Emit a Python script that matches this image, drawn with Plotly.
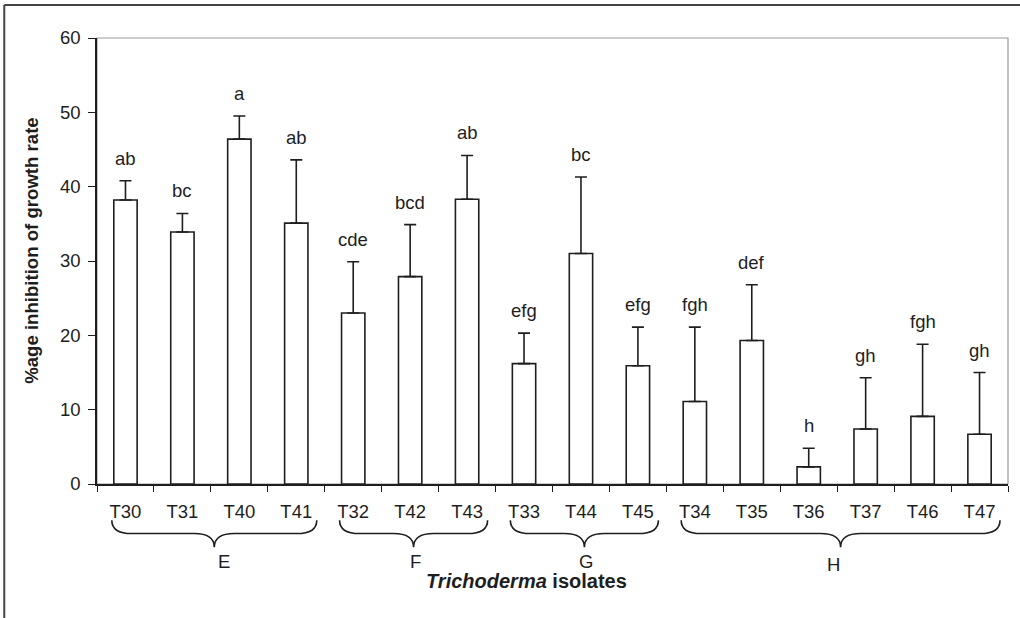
import plotly.graph_objects as go

# Trichoderma isolates, mean % inhibition of growth rate, upper error and significance letters
isolates = ["T30", "T31", "T40", "T41", "T32", "T42", "T43", "T33", "T44", "T45",
            "T34", "T35", "T36", "T37", "T46", "T47"]
inhibition = [38.2, 33.9, 46.4, 35.1, 23.0, 27.9, 38.3, 16.2, 31.0, 15.9,
              11.1, 19.3, 2.3, 7.4, 9.1, 6.7]
error_plus = [2.6, 2.5, 3.1, 8.5, 6.9, 7.0, 5.9, 4.1, 10.3, 5.2,
              10.0, 7.5, 2.5, 6.9, 9.7, 8.3]
letters = ["ab", "bc", "a", "ab", "cde", "bcd", "ab", "efg", "bc", "efg",
           "fgh", "def", "h", "gh", "fgh", "gh"]

# groups of isolates (name, number of isolates)
group_names = ["E", "F", "G", "H"]
group_sizes = [4, 3, 3, 6]

FONT = "Liberation Sans, Arial, sans-serif"
INK = "#1e1e1e"
N = len(isolates)

fig = go.Figure()
fig.add_trace(go.Bar(
    x=isolates, y=inhibition, width=0.41,
    marker=dict(color="white", line=dict(color=INK, width=1.6)),
    error_y=dict(type="data", symmetric=False, array=error_plus,
                 arrayminus=[0] * N, color=INK, thickness=1.6, width=6),
    showlegend=False, hoverinfo="x+y",
))

# significance letters above the error bars
for iso, m, e, lab in zip(isolates, inhibition, error_plus, letters):
    fig.add_annotation(x=iso, y=m + e, text=lab, showarrow=False,
                       yanchor="bottom", yshift=10,
                       font=dict(family=FONT, size=18.5, color=INK))


def px(idx):
    """category position -> paper x"""
    return (idx + 0.5) / N


# curly braces under the tick labels, one per group
y_top, y_mid, y_tip = -0.081, -0.111, -0.142
start = 0
for name, size in zip(group_names, group_sizes):
    first, last = start, start + size - 1
    x0, x1 = px(first - 0.24), px(last + 0.36)
    xc = (x0 + x1) / 2
    d = 0.022
    path = (f"M {x0},{y_top} Q {x0},{y_mid} {x0 + d},{y_mid} "
            f"L {xc - d},{y_mid} Q {xc},{y_mid} {xc},{y_tip} "
            f"Q {xc},{y_mid} {xc + d},{y_mid} "
            f"L {x1 - d},{y_mid} Q {x1},{y_mid} {x1},{y_top}")
    fig.add_shape(type="path", path=path, xref="paper", yref="paper",
                  line=dict(color=INK, width=1.6))
    fig.add_annotation(x=xc, y=y_tip - 0.004, xref="paper", yref="paper",
                       text=name, showarrow=False, yanchor="top",
                       xshift=2 if name != "H" else 1,
                       yshift=0 if name != "H" else -3,
                       font=dict(family=FONT, size=18.5, color=INK))
    start += size

# plot-area frame (grey top and right edges)
fig.add_shape(type="rect", xref="paper", yref="paper", x0=0, x1=1, y0=0, y1=1,
              line=dict(color="#9a9a9a", width=1.2), layer="below")

# outer chart frame (top and left edges)
fig.add_shape(type="line", xref="paper", yref="paper",
              x0=-0.1018, x1=1.02, y0=1.0740, y1=1.0740,
              line=dict(color="#444444", width=2))
fig.add_shape(type="line", xref="paper", yref="paper",
              x0=-0.1018, x1=-0.1018, y0=1.0740, y1=-0.31,
              line=dict(color="#444444", width=2))

# axis titles
fig.add_annotation(x=-0.0714, y=0.525, xref="paper", yref="paper",
                   text="<b>%age inhibition of growth rate</b>", textangle=-90,
                   showarrow=False, xanchor="center", yanchor="middle",
                   font=dict(family=FONT, size=18.6, color=INK))
fig.add_annotation(x=0.4715, y=-0.218, xref="paper", yref="paper",
                   text="<b><i>Trichoderma</i> isolates</b>",
                   showarrow=False, xanchor="center", yanchor="middle",
                   font=dict(family=FONT, size=20, color=INK))

fig.update_layout(
    width=1020, height=618,
    margin=dict(l=97, r=12, t=38, b=134),
    paper_bgcolor="white", plot_bgcolor="white",
    font=dict(family=FONT, size=18.5, color=INK),
    bargap=0.59,
    xaxis=dict(type="category", tickson="boundaries", ticks="outside",
               ticklen=6, tickwidth=1.2, tickcolor=INK,
               showline=True, linecolor=INK, linewidth=1.6,
               showgrid=False, zeroline=False, ticklabelstandoff=10,
               tickfont=dict(family=FONT, size=18.5, color=INK),
               range=[-0.5, N - 0.5]),
    yaxis=dict(range=[0, 60], dtick=10, ticks="outside", ticklen=7,
               tickwidth=1.2, tickcolor=INK,
               showline=True, linecolor=INK, linewidth=1.6,
               showgrid=False, zeroline=False, ticklabelstandoff=4,
               tickfont=dict(family=FONT, size=18.5, color=INK)),
)

fig.write_html("out.html")
